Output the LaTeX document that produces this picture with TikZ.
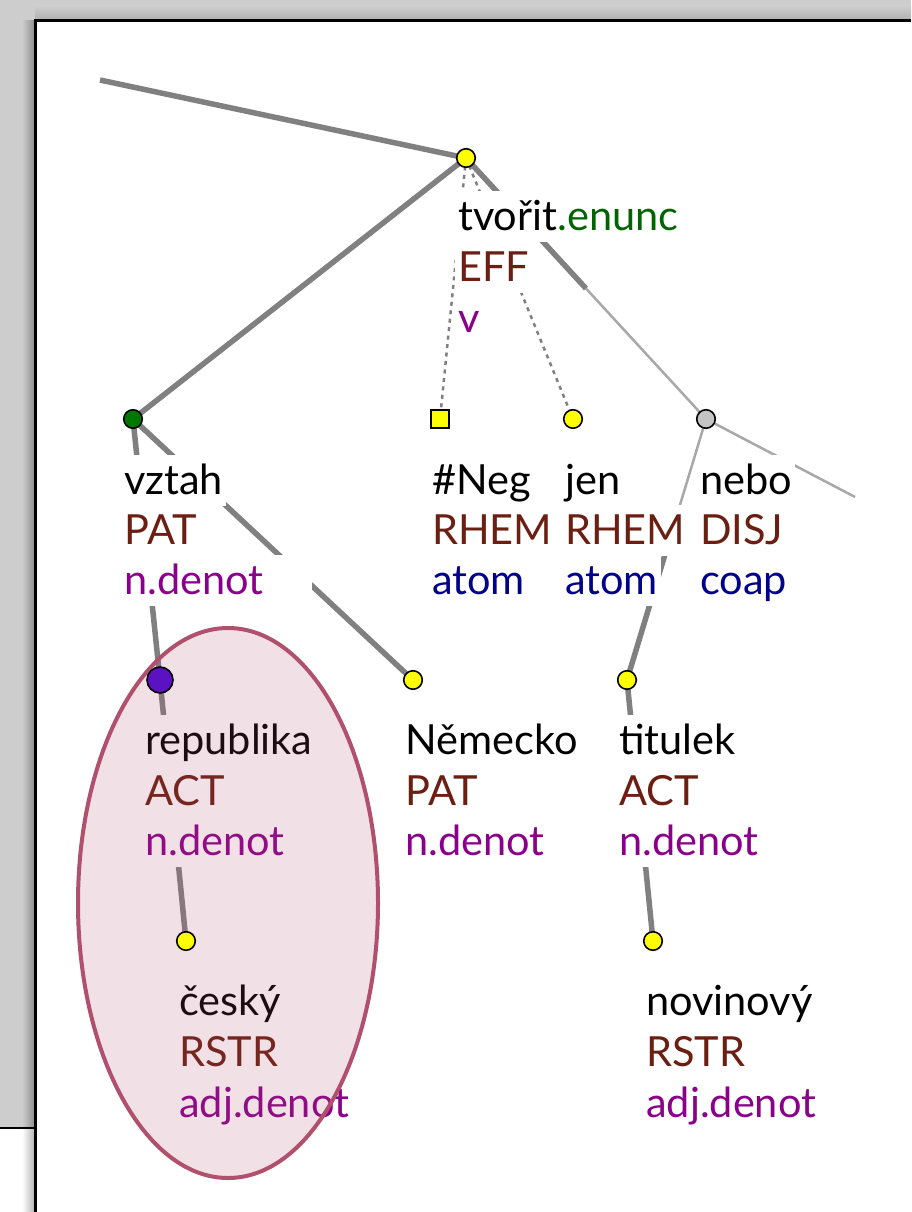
\documentclass[tikz,border=0pt]{standalone}
\usepackage{fontspec}
\setmainfont{Lato}
\usetikzlibrary{calc}
\definecolor{bg}{HTML}{CDCDCD}
\definecolor{edgec}{HTML}{808080}
\definecolor{thinc}{HTML}{A8A8A8}
\definecolor{functor}{HTML}{6B1E12}
\definecolor{sempos}{HTML}{8B008B}
\definecolor{ntype}{HTML}{00008B}
\definecolor{enunc}{HTML}{006400}
\definecolor{ellc}{HTML}{B0506E}
\definecolor{yel}{HTML}{FFFF00}
\definecolor{grn}{HTML}{007800}
\definecolor{gry}{HTML}{C4C4C4}
\definecolor{pur}{HTML}{5A12C2}
\begin{document}
\begin{tikzpicture}[x=1pt,y=-1pt,
  thickedge/.style={draw=edgec, line width=5.5pt},
  thinedge/.style={draw=thinc, line width=2.5pt},
  dotedge/.style={draw=edgec, line width=2.5pt, dash pattern=on 4pt off 4.5pt},
  tnode/.style={circle, draw=black, line width=1.6pt, inner sep=0pt, minimum size=18.5pt},
  snode/.style={rectangle, draw=black, line width=1.6pt, inner sep=0pt, minimum size=18pt},
  lab/.style={anchor=base west, fill=white, inner xsep=3pt, inner ysep=0pt, xshift=-3pt,
    text height=39pt, text depth=12pt, font=\fontsize{41.5}{50}\selectfont},
]
\useasboundingbox (0,0) rectangle (911,1212);
% background window
\fill[bg] (0,0) rectangle (911,1212);
\shade[top color=bg, bottom color=black!32] (35,6) rectangle (911,21);
\shade[left color=bg, right color=black!45] (22,21) rectangle (35,1128);
\fill[white] (0,1128) rectangle (35,1212);
\shade[left color=white, right color=black!30] (22,1128) rectangle (35,1212);
\draw[black, line width=2pt] (0,1128) -- (35,1128);
\fill[white] (35,21) rectangle (911,1212);
\draw[black, line width=3pt] (35,1212) -- (35,21) -- (911,21);

% tree positions
\coordinate (root) at (466,158);
\coordinate (vztah) at (133,419);
\coordinate (neg) at (440,419);
\coordinate (jen) at (573,419);
\coordinate (nebo) at (706,419);
\coordinate (rep) at (160,680);
\coordinate (nem) at (413,680);
\coordinate (tit) at (627,680);
\coordinate (cesky) at (186,941);
\coordinate (nov) at (653,941);
\coordinate (topend) at (100,80);
\coordinate (rightend) at (855,497);

% edges
\draw[thickedge] (topend) -- (root);
\draw[thickedge] (root) -- (vztah);
\draw[dotedge] (root) -- (neg);
\draw[dotedge] (root) -- (jen);
\draw[thickedge] (root) -- ($(root)!0.5!(nebo)$);
\draw[thinedge] ($(root)!0.5!(nebo)$) -- (nebo);
\draw[thinedge] (nebo) -- (rightend);
\draw[thinedge] (nebo) -- ($(nebo)!0.5!(tit)$);
\draw[thickedge] ($(nebo)!0.5!(tit)$) -- (tit);
\draw[thickedge] (vztah) -- (rep);
\draw[thickedge] (vztah) -- (nem);
\draw[thickedge] (rep) -- (cesky);
\draw[thickedge] (tit) -- (nov);

% labels
\node[lab] (lroot1) at (458,230) {tvořit\textcolor{enunc}{.enunc}};
\node[lab, text=functor] (lroot2) at (458,281) {EFF};
\node[lab, text=sempos] (lroot3) at (458,332) {v};

\node[lab] (lvztah1) at (124,494) {vztah};
\node[lab, text=functor] (lvztah2) at (124,544) {PAT};
\node[lab, text=sempos] (lvztah3) at (124,594) {n.denot\hspace*{46pt}};

\node[lab] (lneg1) at (432,494) {\#Neg};
\node[lab, text=functor] (lneg2) at (432,544) {RHEM};
\node[lab, text=ntype] (lneg3) at (432,594) {atom};

\node[lab] (ljen1) at (565,494) {jen};
\node[lab, text=functor] (ljen2) at (565,544) {RHEM};
\node[lab, text=ntype] (ljen3) at (565,594) {atom};

\node[lab] (lnebo1) at (700,494) {nebo};
\node[lab, text=functor] (lnebo2) at (700,544) {DISJ};
\node[lab, text=ntype] (lnebo3) at (700,594) {coap};

\node[lab] (lrep1) at (145,754) {republika};
\node[lab, text=functor] (lrep2) at (145,805) {ACT};
\node[lab, text=sempos] (lrep3) at (145,855) {n.denot};

\node[lab] (lnem1) at (405,754) {Německo};
\node[lab, text=functor] (lnem2) at (405,805) {PAT};
\node[lab, text=sempos] (lnem3) at (405,855) {n.denot};

\node[lab] (ltit1) at (619,754) {titulek};
\node[lab, text=functor] (ltit2) at (619,805) {ACT};
\node[lab, text=sempos] (ltit3) at (619,855) {n.denot};

\node[lab] (lces1) at (179,1015) {český};
\node[lab, text=functor] (lces2) at (179,1066) {RSTR};
\node[lab, text=sempos] (lces3) at (179,1117) {adj.denot};

\node[lab] (lnov1) at (646,1015) {novinový};
\node[lab, text=functor] (lnov2) at (646,1066) {RSTR};
\node[lab, text=sempos] (lnov3) at (646,1117) {adj.denot};

% highlight ellipse
\draw[draw=ellc, line width=4pt, fill=ellc, fill opacity=0.17] (228,903) ellipse [x radius=150, y radius=275];

% tree nodes
\node[tnode, fill=yel] (nroot) at (root) {};
\node[tnode, fill=grn] (nvztah) at (vztah) {};
\node[snode, fill=yel] (nneg) at (neg) {};
\node[tnode, fill=yel] (njen) at (jen) {};
\node[tnode, fill=gry] (nnebo) at (nebo) {};
\node[tnode, fill=pur, minimum size=26pt] (nrep) at (rep) {};
\node[tnode, fill=yel] (nnem) at (nem) {};
\node[tnode, fill=yel] (ntit) at (tit) {};
\node[tnode, fill=yel] (ncesky) at (cesky) {};
\node[tnode, fill=yel] (nnov) at (nov) {};
\end{tikzpicture}
\end{document}
